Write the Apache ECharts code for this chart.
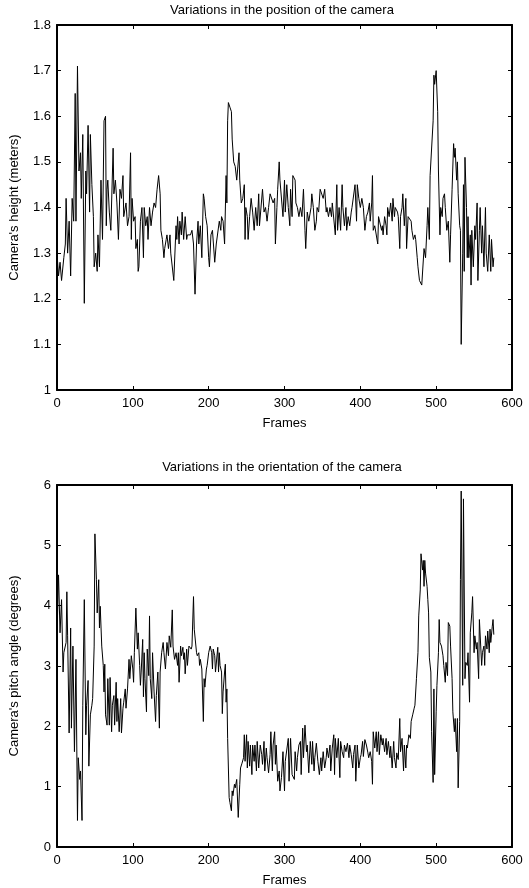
<!DOCTYPE html>
<html lang="en">
<head>
    <meta charset="UTF-8">
    <title>Camera position and orientation</title>
    <script src="https://cdn.jsdelivr.net/npm/echarts@6/dist/echarts.min.js"></script>
    <style>
        html, body { margin: 0; padding: 0; background: #fff; }
    </style>
</head>
<body>
<div id="main" style="width: 529px;height:888px;"></div>
<script type="text/javascript">
    // camera height per frame
    var heightFrames = [0,2,4,6,9,11,12,14,16,18,20,22,24,25,27,29,31,32,34,36,38,39,41,43,44,46,48,49,51,53,54,56,58,60,62,64,65,66,67,69,71,74,75,77,79,81,83,85,87,88,91,93,95,97,98,99,101,103,104,106,107,108,110,112,114,115,117,119,120,122,124,126,128,130,132,134,136,137,139,141,142,144,145,147,149,150,152,154,157,158,159,161,162,164,165,167,169,171,172,174,176,178,180,182,184,186,187,189,191,193,194,196,198,200,201,203,205,
        207,208,210,212,214,216,217,219,221,223,224,225,226,228,230,231,233,235,237,240,241,243,245,247,248,249,251,252,254,256,258,260,262,264,266,267,269,271,273,275,277,279,281,283,285,287,288,290,291,293,294,296,298,300,301,303,305,307,308,310,311,314,315,317,319,321,323,325,327,328,330,332,335,336,338,340,342,343,345,347,349,351,353,355,356,358,360,362,363,365,367,369,370,372,374,376,377,379,381,382,384,386,388,389,391,393,395,396,398,400,402,404,
        406,408,410,412,413,415,416,417,419,421,423,424,426,428,429,430,432,434,435,436,438,440,442,443,445,446,449,450,452,453,455,456,458,460,461,463,465,467,468,470,472,473,475,476,478,479,481,483,484,486,488,489,491,492,494,496,497,498,500,502,503,505,506,508,509,511,512,514,516,518,519,521,523,524,525,527,528,529,531,532,533,535,536,537,538,540,541,542,543,545,546,547,549,551,552,554,555,557,558,560,561,563,565,566,568,570,572,573,575,576];
    var heightValues = [1.30,1.25,1.28,1.24,1.29,1.32,1.42,1.30,1.37,1.25,1.42,1.37,1.65,1.37,1.71,1.48,1.52,1.42,1.56,1.19,1.48,1.43,1.58,1.39,1.56,1.45,1.38,1.27,1.30,1.26,1.34,1.27,1.46,1.33,1.59,1.60,1.36,1.44,1.46,1.39,1.35,1.53,1.43,1.46,1.41,1.33,1.44,1.42,1.47,1.38,1.41,1.36,1.38,1.52,1.33,1.42,1.37,1.38,1.31,1.33,1.26,1.27,1.37,1.40,1.29,1.40,1.36,1.38,1.33,1.40,1.36,1.39,1.41,1.40,1.44,1.47,1.43,1.35,1.33,1.29,1.31,1.33,1.34,1.31,1.34,1.30,1.30,1.24,1.36,1.33,1.38,1.32,1.37,1.34,1.39,1.33,1.38,1.33,1.34,1.34,1.34,1.35,1.32,1.21,1.32,1.37,1.32,1.36,1.29,1.43,1.42,1.38,1.36,1.29,1.27,1.34,1.35,
        1.35,1.28,1.32,1.32,1.37,1.35,1.38,1.37,1.32,1.47,1.41,1.59,1.63,1.62,1.61,1.55,1.50,1.49,1.46,1.52,1.46,1.41,1.42,1.45,1.33,1.40,1.38,1.33,1.38,1.42,1.39,1.35,1.40,1.36,1.43,1.36,1.36,1.44,1.39,1.40,1.37,1.40,1.43,1.43,1.41,1.42,1.32,1.40,1.44,1.50,1.46,1.46,1.38,1.46,1.39,1.45,1.40,1.36,1.44,1.38,1.47,1.46,1.41,1.40,1.38,1.40,1.38,1.44,1.35,1.31,1.39,1.37,1.40,1.43,1.40,1.35,1.37,1.40,1.39,1.44,1.44,1.42,1.44,1.39,1.40,1.38,1.40,1.38,1.41,1.41,1.34,1.45,1.35,1.40,1.35,1.45,1.40,1.36,1.40,1.35,1.38,1.36,1.39,1.40,1.40,1.45,1.37,1.45,1.42,1.40,1.42,1.40,
        1.35,1.38,1.39,1.41,1.37,1.41,1.47,1.35,1.36,1.36,1.32,1.38,1.38,1.35,1.36,1.34,1.38,1.36,1.34,1.40,1.38,1.41,1.37,1.42,1.38,1.40,1.39,1.38,1.31,1.38,1.40,1.43,1.36,1.42,1.31,1.38,1.38,1.37,1.35,1.33,1.34,1.33,1.29,1.27,1.24,1.24,1.23,1.23,1.31,1.29,1.36,1.40,1.33,1.47,1.47,1.59,1.69,1.67,1.70,1.61,1.48,1.34,1.40,1.38,1.42,1.43,1.40,1.35,1.37,1.28,1.34,1.44,1.54,1.51,1.53,1.46,1.50,1.43,1.36,1.35,1.10,1.30,1.45,1.26,1.51,1.40,1.29,1.38,1.29,1.34,1.23,1.35,1.27,1.36,1.33,1.41,1.24,1.35,1.40,1.30,1.36,1.27,1.40,1.30,1.26,1.34,1.26,1.33,1.27,1.29];

    // camera pitch angle per frame
    var pitchFrames = [0,2,4,6,8,9,12,13,14,16,18,19,21,23,25,27,28,30,31,33,34,36,38,39,41,42,44,46,47,49,50,52,53,55,56,57,59,61,62,63,64,66,67,69,70,72,73,75,76,78,79,80,82,84,85,87,88,90,91,93,95,96,98,100,101,102,104,106,107,109,110,111,113,114,115,116,118,119,121,122,123,125,126,128,130,131,133,135,136,138,140,141,143,145,147,148,150,152,153,155,157,159,160,161,163,164,166,167,168,169,171,172,174,177,178,180,181,184,185,187,188,189,191,193,194,195,197,198,200,202,
        204,205,206,208,209,212,213,214,215,217,218,219,221,222,223,224,225,227,228,230,231,232,234,235,237,239,241,242,244,246,247,248,250,251,252,254,255,257,258,260,261,263,264,266,268,270,271,273,274,276,277,279,281,282,284,285,287,288,289,291,293,294,296,298,300,301,303,305,306,308,310,312,313,314,316,317,319,321,322,324,325,327,329,330,332,334,336,337,339,340,342,344,346,348,349,351,353,355,356,358,360,361,363,365,366,367,369,371,373,374,376,378,379,381,383,385,386,388,390,391,393,394,396,398,400,
        401,403,404,406,408,410,411,413,415,416,417,419,421,422,424,425,427,429,430,432,434,435,437,439,440,442,444,445,447,448,450,452,453,455,457,458,460,461,462,464,466,467,469,471,472,474,476,477,479,480,482,483,484,485,486,488,489,490,491,493,494,496,497,498,500,501,503,504,505,507,509,510,512,513,515,516,518,519,521,522,524,525,527,528,529,531,532,533,535,536,538,539,541,542,544,545,547,548,550,551,553,554,556,557,559,560,561,563,564,565,567,568,570,571,572,574,575,576];
    var pitchValues = [3.50,4.51,3.55,4.10,2.90,3.22,3.39,4.23,3.50,1.89,3.63,1.97,3.33,1.58,3.11,0.44,1.48,1.12,1.26,0.44,2.35,4.10,1.86,2.35,2.76,1.34,2.19,2.35,2.46,3.33,5.19,4.43,3.88,4.43,3.63,3.99,3.33,3.01,2.57,3.03,2.19,2.02,2.79,2.02,2.81,1.91,2.35,2.51,2.02,2.73,2.08,2.46,1.91,2.46,1.89,2.30,2.40,2.62,2.30,2.62,3.11,2.79,3.17,2.95,2.73,3.22,3.96,3.28,3.55,3.01,2.68,2.90,3.44,2.49,3.22,2.79,2.24,3.28,2.84,3.83,2.79,2.46,3.22,2.57,2.08,2.51,2.90,1.97,2.90,3.22,3.39,3.22,2.95,3.39,3.17,3.50,3.31,3.93,3.33,3.11,3.22,3.01,3.22,2.73,3.33,3.17,3.31,3.11,3.22,2.87,3.28,3.01,3.33,3.28,3.33,4.15,3.61,3.22,3.17,3.22,3.01,3.11,2.95,2.08,2.79,2.65,2.95,3.01,3.22,3.33,
        3.22,2.95,3.28,3.17,2.90,3.31,2.90,3.22,3.01,2.90,2.21,2.57,2.90,3.03,2.40,2.62,1.80,0.82,0.74,0.60,0.93,0.85,1.04,0.98,1.12,0.49,1.04,1.31,1.39,1.48,1.86,1.42,1.86,1.31,1.75,1.34,1.69,1.20,1.69,1.42,1.69,1.26,1.75,1.31,1.69,1.53,1.37,1.75,1.26,1.64,1.48,1.23,1.53,1.91,1.26,1.69,1.91,1.37,1.69,1.09,1.26,0.93,1.15,1.58,0.93,1.42,1.42,1.80,1.09,1.80,1.20,1.20,1.12,1.58,1.26,1.48,1.69,1.75,1.20,1.97,1.48,2.02,1.58,1.69,1.23,1.75,1.37,1.75,1.26,1.48,1.72,1.42,1.20,1.48,1.26,1.58,1.31,1.48,1.64,1.48,1.69,1.26,1.64,1.86,1.20,1.80,1.48,1.80,1.15,1.75,1.58,1.48,1.69,1.58,1.72,1.48,1.69,1.53,1.31,1.53,1.69,1.09,1.69,1.31,1.48,
        1.53,1.75,1.50,1.78,1.69,1.56,1.48,1.58,1.42,1.04,1.91,1.64,1.91,1.58,1.91,1.53,1.86,1.69,1.80,1.58,1.80,1.53,1.75,1.48,1.67,1.31,1.75,1.48,1.31,1.56,1.45,2.13,1.58,1.80,1.26,1.69,1.31,1.69,1.64,1.86,1.80,2.08,2.19,2.30,2.35,2.79,3.22,3.83,4.26,4.86,4.59,4.75,4.32,4.75,4.54,4.32,4.10,3.88,3.14,2.90,1.91,1.07,2.62,1.20,2.24,2.68,3.22,3.77,3.39,3.33,3.17,3.01,2.73,3.06,2.84,3.72,3.66,3.33,2.79,2.24,1.91,2.13,1.58,2.13,0.98,2.08,4.43,5.90,2.68,5.77,2.79,3.06,3.01,3.22,2.40,3.55,3.88,4.15,3.22,3.50,3.28,3.39,2.79,3.77,3.74,3.01,3.22,3.33,3.01,3.50,3.28,3.58,3.22,3.61,3.39,3.66,3.77,3.52];

    var fontName = "Liberation Sans";
    var fontSize = 13;

    function pairs(xs, ys) {
        var out = [];
        for (var i = 0; i < xs.length; i++) {
            out.push([xs[i], ys[i]]);
        }
        return out;
    }

    // MATLAB style box: ticks inside on all four sides, labels only bottom/left
    function frameAxis(grid, pos, withLabels) {
        return {
            gridIndex: grid,
            type: "value",
            position: pos,
            min: 0,
            max: 600,
            interval: 100,
            name: withLabels ? "Frames" : "",
            nameLocation: "middle",
            nameGap: 27,
            nameTextStyle: {color: "#000", fontFamily: fontName, fontSize: fontSize},
            axisLine: {onZero: false, lineStyle: {color: "#000", width: 2}},
            axisTick: {inside: true, length: 4, lineStyle: {color: "#000"}},
            axisLabel: {show: withLabels, color: "#000", fontFamily: fontName, fontSize: fontSize, margin: 7},
            splitLine: {show: false}
        };
    }

    function valueAxis(grid, pos, min, max, step, name) {
        return {
            gridIndex: grid,
            type: "value",
            position: pos,
            min: min,
            max: max,
            interval: step,
            name: name,
            nameLocation: "middle",
            nameGap: 36,
            nameTextStyle: {color: "#000", fontFamily: fontName, fontSize: fontSize},
            axisLine: {onZero: false, lineStyle: {color: "#000", width: 2}},
            axisTick: {inside: true, length: 4, lineStyle: {color: "#000"}},
            axisLabel: {show: name !== "", color: "#000", fontFamily: fontName, fontSize: fontSize, margin: 6},
            splitLine: {show: false}
        };
    }

    var myChart = echarts.init(document.getElementById("main"));

    var option = {
        animation: false,
        backgroundColor: "#fff",
        title: [
            {
                text: "Variations in the position of the camera",
                left: 282,
                top: 4,
                padding: 0,
                textAlign: "center",
                textStyle: {color: "#000", fontFamily: fontName, fontSize: fontSize, fontWeight: "normal"}
            },
            {
                text: "Variations in the orientation of the camera",
                left: 282,
                top: 461,
                padding: 0,
                textAlign: "center",
                textStyle: {color: "#000", fontFamily: fontName, fontSize: fontSize, fontWeight: "normal"}
            }
        ],
        grid: [
            {left: 53, top: 25, width: 459, height: 365},
            {left: 53, top: 485, width: 459, height: 365}
        ],
        xAxis: [
            frameAxis(0, "bottom", true),
            frameAxis(0, "top", false),
            frameAxis(1, "bottom", true),
            frameAxis(1, "top", false)
        ],
        yAxis: [
            valueAxis(0, "left", 1, 1.8, 0.1, "Camera's height (meters)"),
            valueAxis(0, "right", 1, 1.8, 0.1, ""),
            valueAxis(1, "left", 0, 6, 1, "Camera's pitch angle (degrees)"),
            valueAxis(1, "right", 0, 6, 1, "")
        ],
        series: [
            {
                type: "line",
                xAxisIndex: 0,
                yAxisIndex: 0,
                showSymbol: false,
                lineStyle: {color: "#000", width: 1},
                data: pairs(heightFrames, heightValues)
            },
            {
                type: "line",
                xAxisIndex: 2,
                yAxisIndex: 2,
                showSymbol: false,
                lineStyle: {color: "#000", width: 1},
                data: pairs(pitchFrames, pitchValues)
            }
        ]
    };

    myChart.setOption(option);
</script>
</body>
</html>
